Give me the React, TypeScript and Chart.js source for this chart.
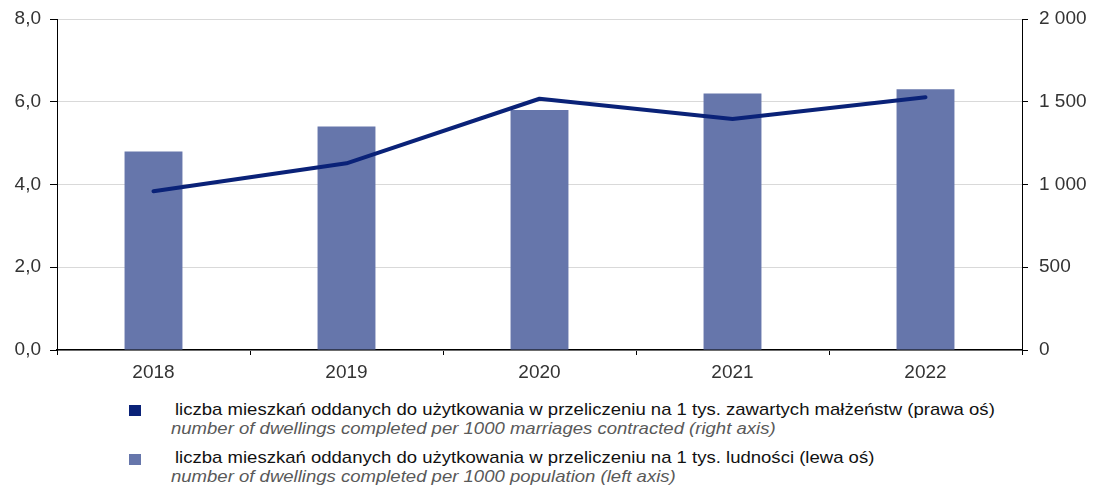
import React, { useEffect, useRef } from "react";
import { Chart, registerables } from "chart.js";

Chart.register(...registerables);

const categories = ["2018", "2019", "2020", "2021", "2022"];
const perPopulation = [4.8, 5.4, 5.8, 6.2, 6.3];
const perMarriages = [959, 1128, 1518, 1396, 1527];
const leftTicks = [0, 2, 4, 6, 8];
const rightTicks = [0, 500, 1000, 1500, 2000];

const legendItems = [
  {
    color: "#0a2278",
    pl: "liczba mieszkań oddanych do użytkowania w przeliczeniu na 1 tys. zawartych małżeństw (prawa oś)",
    en: "number of dwellings completed per 1000 marriages contracted (right axis)",
  },
  {
    color: "#6676ab",
    pl: "liczba mieszkań oddanych do użytkowania w przeliczeniu na 1 tys. ludności (lewa oś)",
    en: "number of dwellings completed per 1000 population (left axis)",
  },
];

const FONT = "'Liberation Sans', Arial, sans-serif";

export default function App() {
  const ref = useRef<HTMLCanvasElement | null>(null);

  useEffect(() => {
    document.body.style.margin = "0";
    const ctx = ref.current!.getContext("2d")!;
    const chart = new Chart(ctx, {
      type: "bar",
      data: {
        labels: categories,
        datasets: [
          {
            type: "line",
            label: legendItems[0].pl,
            data: perMarriages,
            yAxisID: "y1",
            borderColor: "#0a2278",
            backgroundColor: "#0a2278",
            borderWidth: 4,
            pointRadius: 0,
            tension: 0,
            borderJoinStyle: "round",
            borderCapStyle: "round",
            order: 0,
          } as any,
          {
            type: "bar",
            label: legendItems[1].pl,
            data: perPopulation,
            yAxisID: "y",
            backgroundColor: "#6676ab",
            barPercentage: 0.6,
            categoryPercentage: 0.5,
            order: 1,
          },
        ],
      },
      options: {
        animation: false,
        responsive: false,
        maintainAspectRatio: false,
        layout: { padding: { top: 19, left: 0, right: 0, bottom: 0 } },
        plugins: { legend: { display: false }, tooltip: { enabled: false } },
        scales: {
          x: {
            grid: {
              offset: true,
              drawOnChartArea: false,
              drawTicks: true,
              tickLength: 5,
              color: "#000",
            },
            border: { color: "#000", width: 1.5 },
            ticks: {
              color: "#333",
              font: { family: FONT, size: 19 },
              padding: 6,
            },
            afterFit: (s: any) => {
              s.height = 42;
            },
          },
          y: {
            position: "left",
            min: 0,
            max: 8,
            afterBuildTicks: (s: any) => {
              s.ticks = leftTicks.map((v) => ({ value: v }));
            },
            grid: {
              color: "#d9d9d9",
              tickColor: "#000",
              tickLength: 7,
              lineWidth: 1,
            },
            border: { color: "#000", width: 1 },
            ticks: {
              color: "#333",
              font: { family: FONT, size: 19 },
              padding: 9,
              callback: (v: any) => Number(v).toFixed(1).replace(".", ","),
            },
            afterFit: (s: any) => {
              s.width = 57;
              s.paddingTop = 0;
              s.paddingBottom = 0;
            },
          },
          y1: {
            position: "right",
            min: 0,
            max: 2000,
            afterBuildTicks: (s: any) => {
              s.ticks = rightTicks.map((v) => ({ value: v }));
            },
            grid: {
              drawOnChartArea: false,
              tickColor: "#000",
              tickLength: 6,
            },
            border: { color: "#000", width: 1 },
            ticks: {
              color: "#333",
              font: { family: FONT, size: 19 },
              padding: 11,
              callback: (v: any) =>
                String(v).replace(/\B(?=(\d{3})+(?!\d))/g, " "),
            },
            afterFit: (s: any) => {
              s.width = 79;
              s.paddingTop = 0;
              s.paddingBottom = 0;
            },
          },
        },
      },
    });
    return () => chart.destroy();
  }, []);

  const squareTops = [405, 454];
  const lineTops = [
    [400, 419],
    [448, 467],
  ];

  const textBase: React.CSSProperties = {
    position: "absolute",
    fontSize: 17,
    lineHeight: "20px",
    whiteSpace: "nowrap",
    transform: "scaleX(1.09)",
    transformOrigin: "left top",
  };

  return (
    <div style={{ position: "relative", width: 1101, height: 492, fontFamily: FONT }}>
      <canvas ref={ref} width={1101} height={392} style={{ display: "block" }} />
      {legendItems.map((it, i) => (
        <React.Fragment key={i}>
          <div
            style={{
              position: "absolute",
              left: 129,
              top: squareTops[i],
              width: 12,
              height: 11,
              background: it.color,
            }}
          />
          <div style={{ ...textBase, left: 175, top: lineTops[i][0], color: "#111" }}>
            {it.pl}
          </div>
          <div
            style={{
              ...textBase,
              left: 171,
              top: lineTops[i][1],
              fontStyle: "italic",
              color: "#595959",
            }}
          >
            {it.en}
          </div>
        </React.Fragment>
      ))}
    </div>
  );
}
